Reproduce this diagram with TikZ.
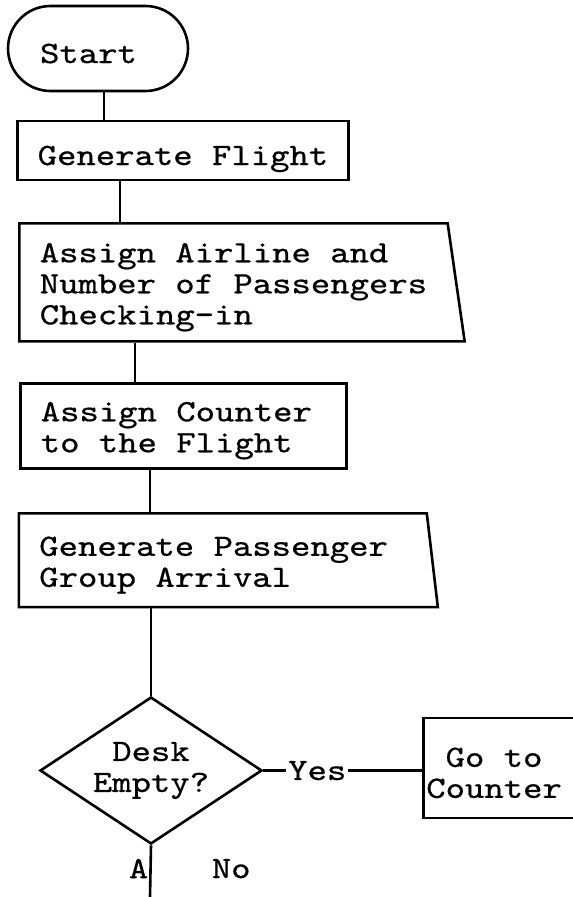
\documentclass[tikz,border=0pt]{standalone}
\usepackage{fontspec}
\newfontfamily\typewriter{lmmono10-regular.otf}[FakeStretch=1.19, FakeBold=0.7, WordSpace={1,0,0}]
\newcommand{\lift}{\rule{0pt}{29pt}}
\usetikzlibrary{shapes.geometric,shapes.misc,calc}

\begin{document}
\begin{tikzpicture}[
  x=1pt, y=-1pt,
  font=\typewriter\fontsize{31}{31}\selectfont,
  line width=2.6pt,
  terminal/.style={
    draw,
    rounded rectangle,
    minimum width=180pt,
    minimum height=85pt,
    inner sep=0pt,
    text depth=0pt
  },
  box/.style={draw, align=flush left, inner xsep=20.5pt, inner ysep=0pt},
  slanted/.style={
    draw,
    trapezium,
    trapezium left angle=90,
    trapezium right angle=#1,
    align=flush left,
    inner xsep=20.5pt
  },
  decision/.style={
    draw,
    diamond,
    shape aspect=1.5,
    minimum width=222pt,
    minimum height=147pt,
    inner sep=0pt,
    align=center
  },
  tag/.style={inner sep=1pt, text depth=0pt}
]
\useasboundingbox (0,0) rectangle (573,897);

% main column
\node[terminal] (start) at (98,48.5) {\lift Start\hspace*{19pt}};
\node[box, minimum width=328pt, minimum height=59pt, text depth=0pt] (flight) at (183,150.5) {\lift Generate Flight};
\node[slanted=81.8, inner ysep=10pt, anchor=top left corner] (airline) at (18,222)
  {\lift Assign Airline and\\Number of Passengers\\Checking-in};
\node[box, text width=285pt, minimum height=85pt, anchor=north west] (counter) at (19,382)
  {\lift Assign Counter\\to the Flight};
\node[slanted=83.3, text width=367pt, inner ysep=13.5pt, anchor=top left corner] (passenger) at (17.5,512)
  {\lift Generate Passenger\\Group Arrival};
\node[decision] (desk) at (151,770.5) {Desk\\Empty?};

% branch
\node[box, text width=200pt, minimum height=100pt, inner xsep=3pt, anchor=west] (gocounter) at (422,768)
  {\lift\phantom{C}Go to\\Counter};
\coordinate (exit) at (150,897);

% joins between the boxes
\coordinate (j1) at ($(flight.north west)+(88,0)$);
\coordinate (j2) at ($(airline.top left corner)+(102,0)$);
\coordinate (j3) at ($(counter.north west)+(116,0)$);
\coordinate (j4) at ($(passenger.top left corner)+(132.5,0)$);

\draw (j1) -- (j1 |- start.south);
\draw (j2) -- (j2 |- flight.south);
\draw (j3) -- (j3 |- airline.bottom left corner);
\draw (j4) -- (j4 |- counter.south);
\draw (desk.north) -- (desk.north |- passenger.bottom left corner);
\draw (desk.east) -- node[tag, fill=white, inner xsep=2pt, pos=0.34] (yes) {Yes} (desk.east -| gocounter.west);
\draw (desk.south) -- node[tag, left, pos=0.45] (tagA) {A}
  node[tag, right, xshift=59pt, pos=0.45] (no) {No} (exit);

\end{tikzpicture}
\end{document}
